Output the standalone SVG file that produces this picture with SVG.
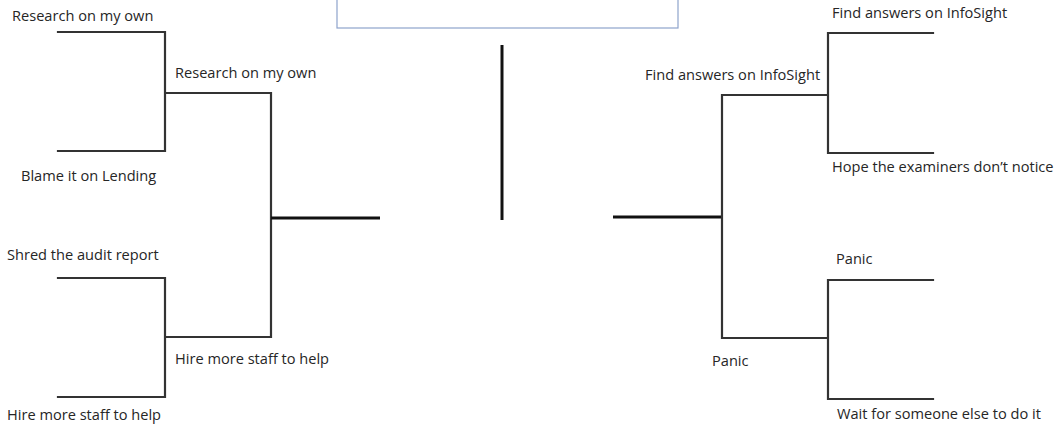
<svg xmlns="http://www.w3.org/2000/svg" width="1060" height="425" viewBox="0 0 1060 425">
<style>
text{font-family:"Open Sans","Liberation Sans",sans-serif;font-size:14.6px;fill:#262626}
.ln{stroke:#333;stroke-width:2.2;fill:none;stroke-linecap:square}
.thick{stroke:#111;stroke-width:3;fill:none}
</style>
<rect width="1060" height="425" fill="#fff"/>
<g id="title-box"><rect x="337" y="-10" width="341" height="38" fill="#fff" stroke="#8ea3cc" stroke-width="1.2"/></g>
<g id="connectors">
<path class="ln" d="M58 32H165V151H58M165 93H271V337H165M165 278V397M58 278H165M58 397H165"/>
<path class="thick" d="M271 218H380"/>
<path class="thick" d="M502 45V220"/>
<path class="thick" d="M613 217H722"/>
<path class="ln" d="M722 95V338M722 95H828M828 33V153M828 33H933M828 153H933M722 338H828M828 280V399M828 280H933M828 399H933"/>
</g>
<g id="n-l1"><text x="12" y="21">Research on my own</text></g>
<g id="n-l2"><text x="21" y="181">Blame it on Lending</text></g>
<g id="n-l3"><text x="7" y="260">Shred the audit report</text></g>
<g id="n-l4"><text x="7" y="420">Hire more staff to help</text></g>
<g id="n-l5"><text x="175" y="78">Research on my own</text></g>
<g id="n-l6"><text x="175" y="364">Hire more staff to help</text></g>
<g id="n-r1"><text x="832" y="18">Find answers on InfoSight</text></g>
<g id="n-r2"><text x="832" y="172">Hope the examiners don’t notice</text></g>
<g id="n-r3"><text x="836" y="264">Panic</text></g>
<g id="n-r4"><text x="837" y="419">Wait for someone else to do it</text></g>
<g id="n-r5"><text x="645" y="80">Find answers on InfoSight</text></g>
<g id="n-r6"><text x="712" y="366">Panic</text></g>
</svg>
